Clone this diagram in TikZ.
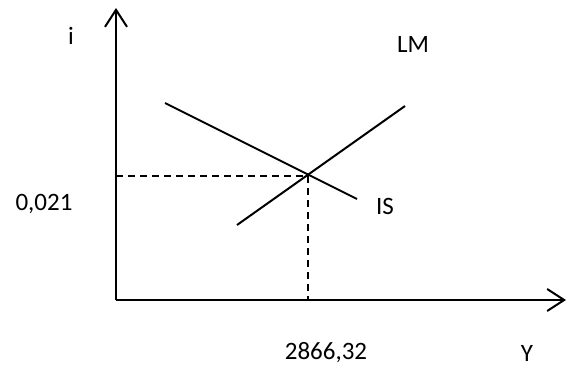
\documentclass[tikz,border=0pt]{standalone}
\usepackage{fontspec}
\setmainfont{Carlito}
\usetikzlibrary{arrows.meta}
\begin{document}
\begin{tikzpicture}[x=1pt,y=-1pt,
  axis/.style={line width=2pt,-{Straight Barb[length=17pt,width=22pt,line width=2pt]}},
  curve/.style={line width=2pt},
  guide/.style={line width=2pt,dash pattern=on 7pt off 5pt},
  lbl/.style={font=\fontsize{25}{30}\selectfont,inner sep=0pt}]
\useasboundingbox (0,0) rectangle (567,367);
\coordinate (O) at (116,300);
\coordinate (ytop) at (116,8);
\coordinate (xend) at (566,300);
\coordinate (E) at (308,176);
\coordinate (ISa) at (165,103);
\coordinate (ISb) at (357,199);
\coordinate (LMa) at (237,225);
\coordinate (LMb) at (405,106);
\coordinate (Ey) at (116,176);
\coordinate (Ex) at (308,300);
\draw[axis] (O) -- (ytop);
\draw[axis] (O) -- (xend);
\draw[curve] (ISa) -- (ISb);
\draw[curve] (LMa) -- (LMb);
\draw[guide] (Ey) -- (E);
\draw[guide] (E) -- (Ex);
\node[lbl] (li) at (71,36) {i};
\node[lbl] (lLM) at (413,44) {LM};
\node[lbl] (lIS) at (385,206) {IS};
\node[lbl] (lint) at (44,204) {0,021};
\node[lbl] (lY) at (326,353) {2866,32};
\node[lbl] (lYY) at (527,353) {Y};
\end{tikzpicture}
\end{document}
